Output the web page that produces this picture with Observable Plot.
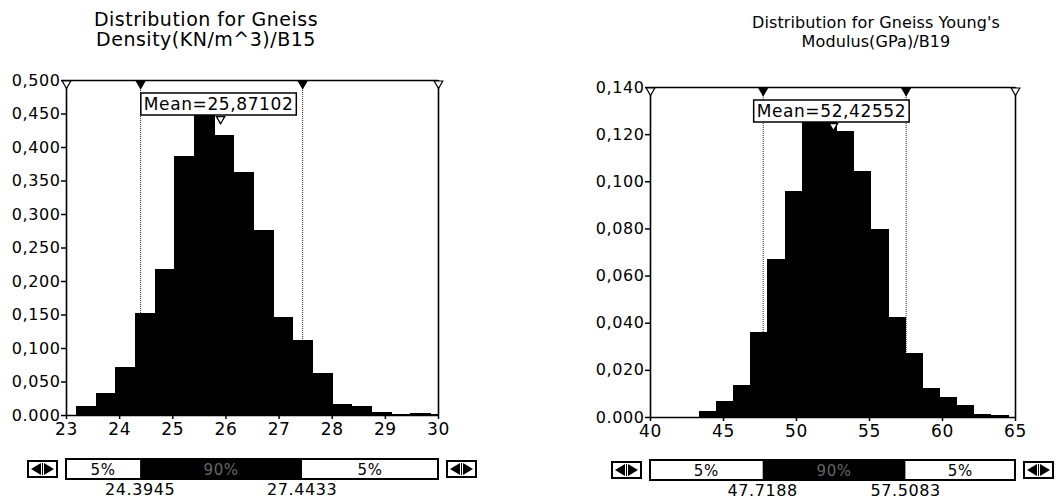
<!DOCTYPE html>
<html>
<head>
<meta charset="utf-8">
<script src="https://cdn.jsdelivr.net/npm/d3@7"></script>
<script src="https://cdn.jsdelivr.net/npm/@observablehq/plot@0.6"></script>
<style>
  html, body { margin: 0; padding: 0; background: #fff; }
  #wrap { position: relative; width: 1062px; height: 504px; overflow: hidden; background: #fff; font-family: "DejaVu Sans", sans-serif; }
  .panel { position: absolute; top: 0; width: 531px; height: 504px; }
  .title { position: absolute; text-align: center; color: #000; white-space: nowrap; transform: translateX(-50%); letter-spacing: 0.5px; }
  svg text { letter-spacing: 0.6px; }
</style>
</head>
<body>
<div id="wrap">
  <div class="panel" id="p1"></div>
  <div class="panel" id="p2" style="left:531px"></div>
  <div class="title" id="t1" style="left:206px; top:9px; font-size:19px; line-height:20px;">Distribution for Gneiss<br>Density(KN/m^3)/B15</div>
  <div class="title" id="t2" style="left:876px; top:13px; font-size:16px; line-height:19px; letter-spacing:0.1px;">Distribution for Gneiss Young's<br>Modulus(GPa)/B19</div>
</div>
<script>
// ---------- Data: Density (left) ----------
const densityBinStart = [23.20, 23.57, 23.94, 24.31, 24.68, 25.05, 25.42, 25.79, 26.16, 26.53, 26.90, 27.27, 27.64, 28.01, 28.38, 28.75, 29.12, 29.49, 29.86];
const densityValues   = [0.012, 0.032, 0.071, 0.152, 0.217, 0.386, 0.447, 0.417, 0.362, 0.275, 0.145, 0.111, 0.062, 0.016, 0.012, 0.003, 0.001, 0.002, 0.001];
const densityBinWidth = 0.37;
const densityXTicks = [23, 24, 25, 26, 27, 28, 29, 30];
const densityYTicks = [0, 0.05, 0.10, 0.15, 0.20, 0.25, 0.30, 0.35, 0.40, 0.45, 0.50];
const densityMean = 25.87102;
const densityP5 = 24.3945;
const densityP95 = 27.4433;
const densityMeanLabel = "Mean=25,87102";
const densityP5Label = "24.3945";
const densityP95Label = "27.4433";

// ---------- Data: Young's Modulus (right) ----------
const modulusBinStart = [43.38, 44.555, 45.73, 46.905, 48.08, 49.255, 50.43, 51.605, 52.78, 53.955, 55.13, 56.305, 57.48, 58.655, 59.83, 61.005, 62.18, 63.355];
const modulusValues   = [0.0023, 0.0065, 0.0132, 0.0359, 0.0668, 0.0956, 0.126, 0.125, 0.121, 0.104, 0.0796, 0.0423, 0.0268, 0.0119, 0.0084, 0.0047, 0.0009, 0.0008];
const modulusBinWidth = 1.175;
const modulusXTicks = [40, 45, 50, 55, 60, 65];
const modulusYTicks = [0, 0.02, 0.04, 0.06, 0.08, 0.10, 0.12, 0.14];
const modulusMean = 52.42552;
const modulusP5 = 47.7188;
const modulusP95 = 57.5083;
const modulusMeanLabel = "Mean=52,42552";
const modulusP5Label = "47.7188";
const modulusP95Label = "57.5083";

const sliderLabels = ["5%", "90%", "5%"];

const fmtY = d => d === 0 ? "0.000" : d3.format(".3f")(d).replace(".", ",");

function drawChart(el, cfg) {
  const bins = cfg.binStart.map((x1, i) => ({x1, x2: Math.min(x1 + cfg.binWidth, cfg.xDomain[1]), v: cfg.values[i]}));
  const top = cfg.yDomain[1];
  const markers = [
    {x: cfg.xDomain[0], y: top, fill: "white"},
    {x: cfg.p5, y: top, fill: "black"},
    {x: cfg.p95, y: top, fill: "black"},
    {x: cfg.xDomain[1], y: top, fill: "white"}
  ];
  const plot = Plot.plot({
    width: 531, height: 504,
    marginTop: cfg.mt, marginBottom: cfg.mb, marginLeft: cfg.ml, marginRight: cfg.mr,
    style: {background: "transparent", fontFamily: "DejaVu Sans, sans-serif", color: "#000", overflow: "visible"},
    x: {domain: cfg.xDomain},
    y: {domain: cfg.yDomain},
    marks: [
      Plot.ruleX([cfg.p5, cfg.p95], {stroke: "#222", strokeWidth: 1, strokeDasharray: "1,1"}),
      Plot.rectY(bins, {x1: "x1", x2: "x2", y: "v", fill: "#000", stroke: "#000", strokeWidth: 1, inset: 0, shapeRendering: "crispEdges"}),
      Plot.ruleY([0, top], {stroke: "#000", strokeWidth: 1.6}),
      Plot.ruleX(cfg.xDomain, {stroke: "#000", strokeWidth: 1.6}),
      Plot.axisY({ticks: cfg.yTicks, tickFormat: fmtY, tickSize: 5, tickPadding: 1, fontSize: 16, label: null, strokeWidth: 1.5}),
      Plot.axisX({ticks: cfg.xTicks, tickFormat: d => String(d), tickSize: 4, tickPadding: 3, fontSize: 17, label: null, strokeWidth: 1.5}),
      Plot.dot(markers, {x: "x", y: "y", symbol: "triangle", rotate: 180, r: 3.2, fill: "fill", stroke: "black", strokeWidth: 1.2, dy: 3})
    ]
  });
  el.appendChild(plot);

  const x = plot.scale("x");
  const svg = d3.select(plot);
  const g = svg.append("g").attr("font-family", "DejaVu Sans, sans-serif");

  // Mean label box
  const mx = x.apply(cfg.mean);
  const boxTop = cfg.mt + cfg.boxOffset;
  const rect = g.append("rect").attr("fill", "white").attr("stroke", "black").attr("stroke-width", 1.5);
  const txt = g.append("text").attr("x", mx).attr("y", boxTop + 17).attr("text-anchor", "middle")
    .attr("font-size", cfg.meanFont).attr("fill", "black").text(cfg.meanLabel);
  const bb = txt.node().getBBox();
  rect.attr("x", bb.x - 3).attr("y", boxTop).attr("width", bb.width + 6).attr("height", 22);
  // mean pointer
  g.append("path")
    .attr("d", d3.symbol(d3.symbolTriangle, 30)())
    .attr("transform", `translate(${mx + 2},${boxTop + 26}) rotate(180)`)
    .attr("fill", "white").attr("stroke", "black").attr("stroke-width", 1.3);

  // Slider
  const sx0 = x.apply(cfg.xDomain[0]), sx1 = x.apply(cfg.xDomain[1]);
  const p5x = x.apply(cfg.p5), p95x = x.apply(cfg.p95);
  const sy = cfg.sliderY, sh = 20;
  g.append("rect").attr("x", sx0).attr("y", sy).attr("width", p5x - sx0).attr("height", sh).attr("fill", "white");
  g.append("rect").attr("x", p5x).attr("y", sy).attr("width", p95x - p5x).attr("height", sh).attr("fill", "black");
  g.append("rect").attr("x", p95x).attr("y", sy).attr("width", sx1 - p95x).attr("height", sh).attr("fill", "white");
  g.append("rect").attr("x", sx0).attr("y", sy).attr("width", sx1 - sx0).attr("height", sh)
    .attr("fill", "none").attr("stroke", "black").attr("stroke-width", 2);
  const segCenters = [(sx0 + p5x) / 2, (p5x + p95x) / 2, (p95x + sx1) / 2];
  sliderLabels.forEach((lab, i) => {
    g.append("text").attr("x", segCenters[i]).attr("y", sy + 16).attr("text-anchor", "middle")
      .attr("font-size", 15).attr("fill", i === 1 ? "#666" : "black").text(lab);
  });
  // buttons
  [[sx0 - 38], [sx1 + 9]].forEach(([bx]) => {
    const bw = 29;
    g.append("rect").attr("x", bx).attr("y", sy + 2).attr("width", bw).attr("height", sh - 4)
      .attr("fill", "white").attr("stroke", "black").attr("stroke-width", 2);
    const cy = sy + sh / 2;
    g.append("path").attr("d", `M${bx + 3},${cy} L${bx + 13},${cy - 6} L${bx + 13},${cy + 6} Z`).attr("fill", "black");
    g.append("path").attr("d", `M${bx + bw - 3},${cy} L${bx + bw - 13},${cy - 6} L${bx + bw - 13},${cy + 6} Z`).attr("fill", "black");
    g.append("line").attr("x1", bx + bw / 2).attr("x2", bx + bw / 2).attr("y1", cy - 6).attr("y2", cy + 6).attr("stroke", "black");
  });
  // percentile labels
  [[p5x, cfg.p5Label], [p95x, cfg.p95Label]].forEach(([px, lab]) => {
    g.append("text").attr("x", px).attr("y", sy + 36).attr("text-anchor", "middle")
      .attr("font-size", 16).attr("fill", "black").text(lab);
  });
}

drawChart(document.getElementById("p1"), {
  binStart: densityBinStart, values: densityValues, binWidth: densityBinWidth,
  xDomain: [23, 30], yDomain: [0, 0.5], xTicks: densityXTicks, yTicks: densityYTicks,
  mean: densityMean, p5: densityP5, p95: densityP95,
  meanLabel: densityMeanLabel, p5Label: densityP5Label, p95Label: densityP95Label,
  ml: 66, mr: 93, mt: 80, mb: 89, boxOffset: 13, meanFont: 17, sliderY: 459
});
drawChart(document.getElementById("p2"), {
  binStart: modulusBinStart, values: modulusValues, binWidth: modulusBinWidth,
  xDomain: [40, 65], yDomain: [0, 0.14], xTicks: modulusXTicks, yTicks: modulusYTicks,
  mean: modulusMean, p5: modulusP5, p95: modulusP95,
  meanLabel: modulusMeanLabel, p5Label: modulusP5Label, p95Label: modulusP95Label,
  ml: 119, mr: 47, mt: 87, mb: 87, boxOffset: 13, meanFont: 17, sliderY: 460
});
</script>
</body>
</html>
